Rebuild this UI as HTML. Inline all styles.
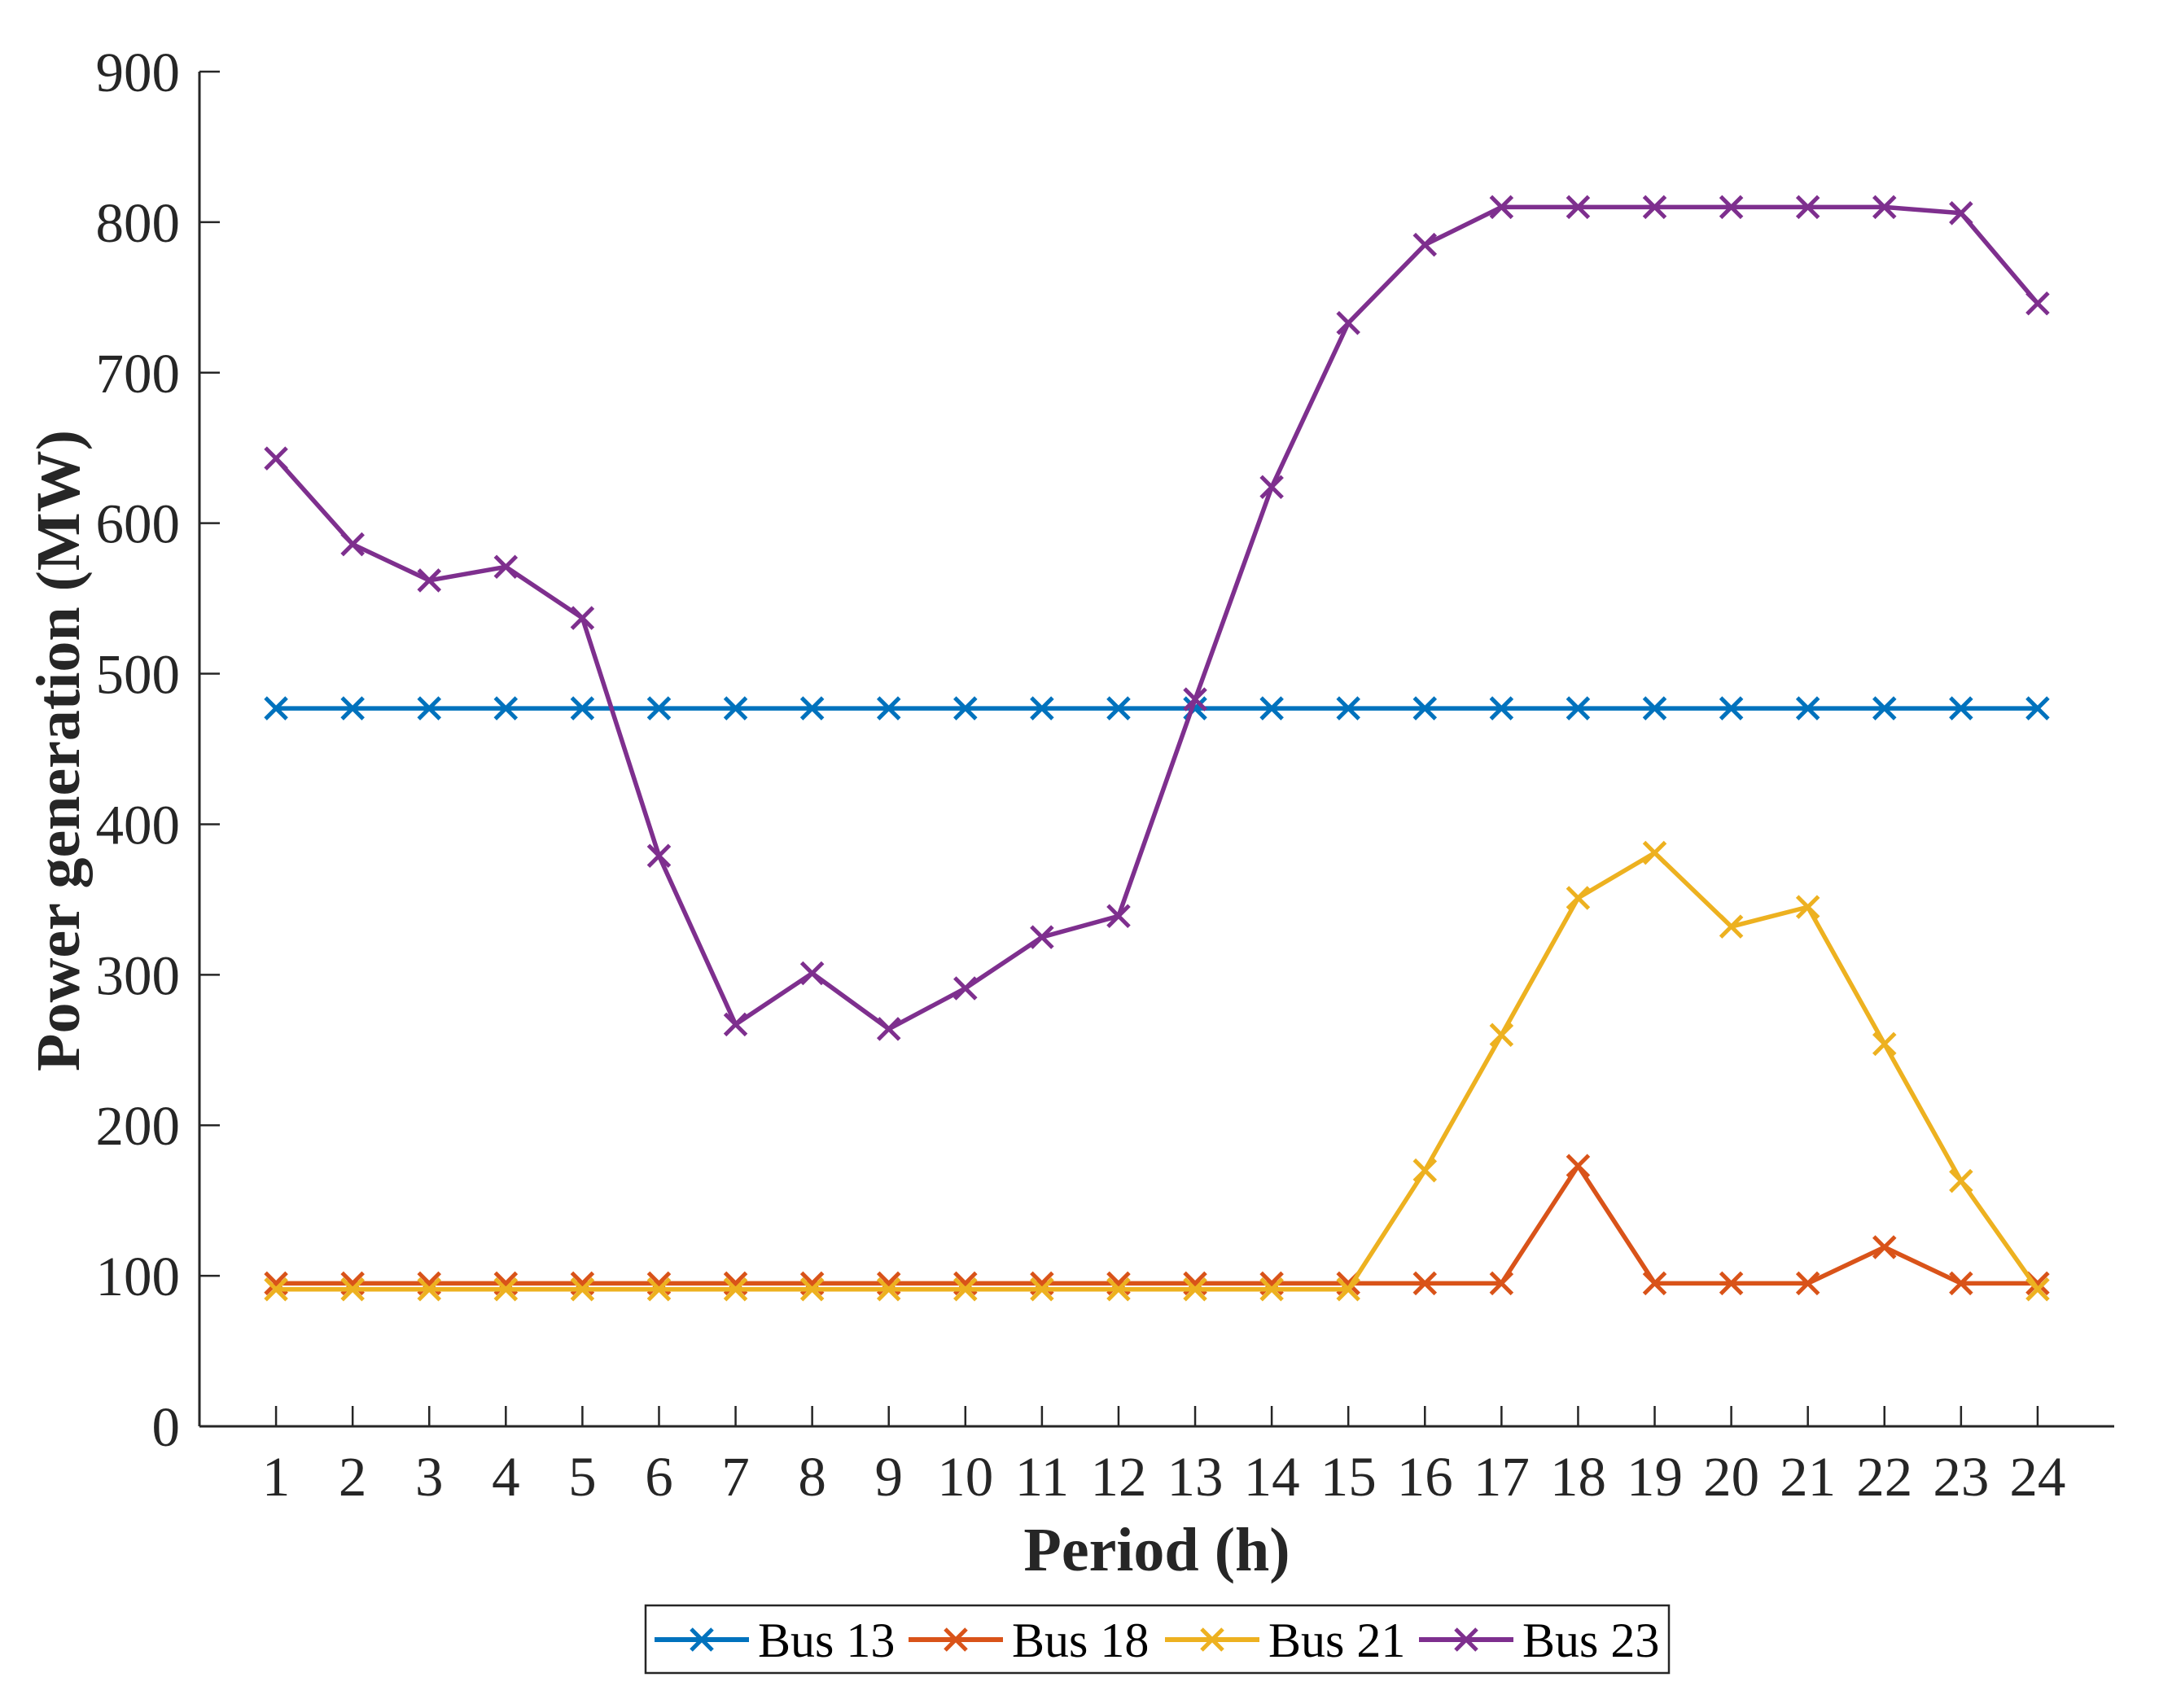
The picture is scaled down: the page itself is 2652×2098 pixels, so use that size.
<!DOCTYPE html>
<html><head><meta charset="utf-8">
<style>
html,body{margin:0;padding:0;background:#fff;}
svg{display:block;font-family:"Liberation Serif",serif;}
</style></head>
<body>
<svg id="chart" width="2652" height="2098" viewBox="0 0 2652 2098" xmlns="http://www.w3.org/2000/svg"></svg>
<script>
const periods = [1,2,3,4,5,6,7,8,9,10,11,12,13,14,15,16,17,18,19,20,21,22,23,24];
const bus13 = [477,477,477,477,477,477,477,477,477,477,477,477,477,477,477,477,477,477,477,477,477,477,477,477];
const bus18 = [95,95,95,95,95,95,95,95,95,95,95,95,95,95,95,95,95,173,95,95,95,119,95,95];
const bus21 = [91,91,91,91,91,91,91,91,91,91,91,91,91,91,91,170,260,351,381,332,345,254,163,91];
const bus23 = [643,586,562,571,537,379,267,301,264,291,325,339,483,624,733,785,810,810,810,810,810,810,806,746];
const yTicks = [0,100,200,300,400,500,600,700,800,900];
const seriesNames = ["Bus 13","Bus 18","Bus 21","Bus 23"];
const seriesColors = ["#0072BD","#D95319","#EDB120","#7E2F8E"];

const NS = "http://www.w3.org/2000/svg";
const svg = document.getElementById('chart');
const L = 245, R = 2597, T = 88, B = 1752;
const xMin = 0, xMax = 25, yMin = 0, yMax = 900;
function xs(v){ return L + (v - xMin) / (xMax - xMin) * (R - L); }
function ys(v){ return B - (v - yMin) / (yMax - yMin) * (B - T); }
function mk(tag, attrs, parent){
  const e = document.createElementNS(NS, tag);
  for (const k in attrs) e.setAttribute(k, attrs[k]);
  (parent || svg).appendChild(e);
  return e;
}
const axisColor = "#262626";

const yAxis = mk('line', {x1:L, y1:T, x2:L, y2:B, stroke:axisColor, 'stroke-width':3});


const xAxis = mk('line', {x1:L, y1:B, x2:R, y2:B, stroke:axisColor, 'stroke-width':3});



yTicks.forEach(v => {
  const y = ys(v);
  const t = mk('line', {x1:L, y1:y, x2:L+25, y2:y, stroke:axisColor, 'stroke-width':2.5});
  
  
  const lb = mk('text', {x:221, y:y+24, 'text-anchor':'end', 'font-size':69, fill:axisColor});
  
  
  lb.textContent = v;
});
periods.forEach(p => {
  const x = xs(p);
  const t = mk('line', {x1:x, y1:B, x2:x, y2:B-25, stroke:axisColor, 'stroke-width':2.5});
  
  
  const lb = mk('text', {x:x, y:1837, 'text-anchor':'middle', 'font-size':69, fill:axisColor});
  
  
  lb.textContent = p;
});

const xt = mk('text', {x:(L+R)/2, y:1929, 'text-anchor':'middle', 'font-size':76, 'font-weight':'bold', fill:axisColor});


xt.textContent = 'Period (h)';
const yt = mk('text', {x:0, y:0, 'text-anchor':'middle', 'font-size':76, 'font-weight':'bold', fill:axisColor, transform:'translate(97,922) rotate(-90)'});


yt.textContent = 'Power generation (MW)';

function marker(x, y, color, parent){
  const s = 13;
  return mk('path', {d:`M${x-s},${y-s}L${x+s},${y+s}M${x-s},${y+s}L${x+s},${y-s}`, stroke:color, 'stroke-width':5, fill:'none'}, parent);
}

const allSeries = [bus13, bus18, bus21, bus23];
allSeries.forEach((vals, i) => {
  const g = mk('g', {});
  
  
  const d = vals.map((v, j) => (j ? 'L' : 'M') + xs(periods[j]) + ',' + ys(v)).join('');
  const ln = mk('path', {d:d, stroke:seriesColors[i], 'stroke-width':5.5, fill:'none', 'stroke-linejoin':'round'}, g);
  
  
  vals.forEach((v, j) => {
    const m = marker(xs(periods[j]), ys(v), seriesColors[i], g);
    
    
  });
});

const lg = mk('g', {});


const box = mk('rect', {x:793, y:1972, width:1257, height:83, fill:'#fff', stroke:axisColor, 'stroke-width':2.5}, lg);


const starts = [804, 1116, 1431, 1743];
seriesNames.forEach((n, i) => {
  const e = mk('g', {}, lg);
  
  
  const x0 = starts[i], yc = 2014;
  mk('line', {x1:x0, y1:yc, x2:x0+116, y2:yc, stroke:seriesColors[i], 'stroke-width':6}, e);
  marker(x0+58, yc, seriesColors[i], e);
  const t = mk('text', {x:x0+127, y:yc+21, 'font-size':60, fill:'#000'}, e);
  
  
  t.textContent = n;
});
</script>
</body></html>
